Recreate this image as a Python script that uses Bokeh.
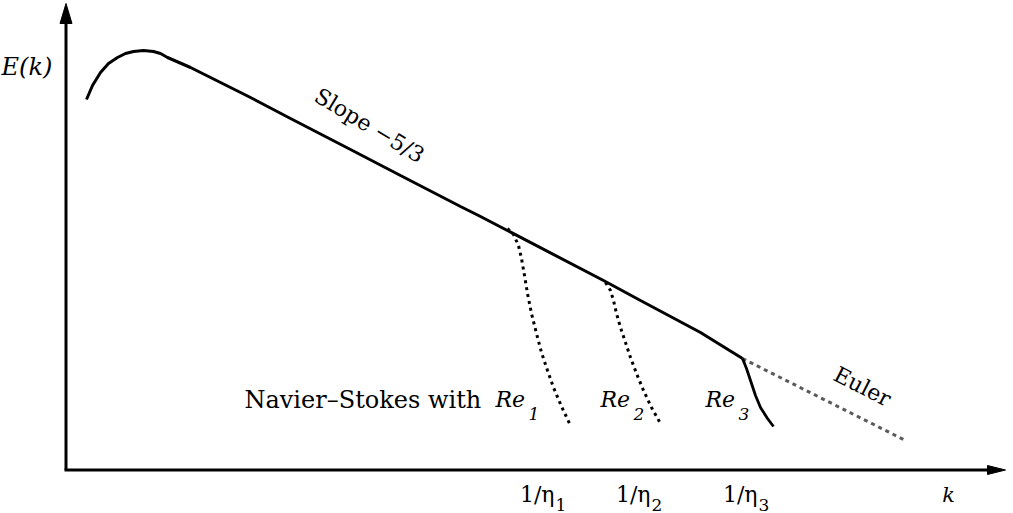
from bokeh.plotting import figure
from bokeh.models import Range1d
from bokeh.core.properties import value
from bokeh.embed import file_html
from bokeh.resources import INLINE

# ---- data (schematic coordinates: k to the right, E(k) downward on screen) ----
spectrum_k = [86, 92, 100, 108, 117, 125, 133, 143, 153, 160, 167, 190, 250, 290, 350, 400, 460, 480, 603, 640, 700, 742]
spectrum_E = [99, 85, 72, 63, 57, 53, 51, 50, 51, 53, 57, 67, 97, 118, 149, 175, 206, 216, 280, 300, 332, 358]

re1_k = [507, 513, 518, 521, 524, 527, 531, 536, 541, 547, 553, 561, 570]
re1_E = [228, 234, 245, 258, 275, 293, 313, 333, 352, 370, 387, 406, 425]

re2_k = [605, 610, 613, 616, 620, 625, 630, 636, 643, 651, 660]
re2_E = [282, 290, 300, 313, 327, 342, 357, 373, 390, 407, 423]

re3_k = [742, 746, 750, 755, 760, 767, 773]
re3_E = [358, 368, 380, 395, 407, 418, 426]

euler_k = [742, 905]
euler_E = [358, 440]

axis_origin = (65.5, 469.5)
axis_k_end = 1005
axis_E_end = 3

eta_k = [542, 638, 745]
eta_labels = ["1/η", "1/η", "1/η"]
eta_subs = ["1", "2", "3"]

re_k = [495, 600, 705]
re_subs = ["1", "2", "3"]

SERIF = value("DejaVu Serif")

p = figure(width=1013, height=513, output_backend="svg", toolbar_location=None,
           x_range=Range1d(0, 1013), y_range=Range1d(513, 0),
           min_border=0, outline_line_color=None)
p.axis.visible = False
p.grid.visible = False
p.background_fill_color = "white"
p.border_fill_color = "white"

# axes with arrowheads
ox, oy = axis_origin
p.line([ox, ox], [oy, axis_E_end + 12], line_color="black", line_width=3)
p.line([ox - 1.5, axis_k_end - 10], [oy, oy], line_color="black", line_width=3)
hl, hw = 20, 6
p.patch([ox, ox - hw, ox + hw], [axis_E_end, axis_E_end + hl, axis_E_end + hl], color="black")
hl2, hw2 = 18, 4.5
p.patch([axis_k_end, axis_k_end - hl2, axis_k_end - hl2], [oy, oy - hw2, oy + hw2], color="black")

# curves
p.line(euler_k, euler_E, line_color="#5a5a5a", line_width=3, line_dash="4 4")
p.line(re1_k, re1_E, line_color="black", line_width=3, line_dash="3 4")
p.line(re2_k, re2_E, line_color="black", line_width=3, line_dash="3 4")
p.line(re3_k, re3_E, line_color="black", line_width=2.8)
p.line(spectrum_k, spectrum_E, line_color="black", line_width=3)

# axis labels
p.text(x=[1], y=[66], text=["E(k)"], text_font=SERIF, text_font_style="italic",
       text_font_size="24px", text_baseline="alphabetic", text_align="left")
p.text(x=[948], y=[494], text=["k"], text_font=SERIF, text_font_style="italic",
       text_font_size="21px", text_baseline="alphabetic", text_align="center")

# tick labels 1/eta_i
p.text(x=eta_k, y=[494] * 3, text=eta_labels, x_offset=12, text_font=SERIF,
       text_font_size="22px", text_baseline="alphabetic", text_align="right")
p.text(x=eta_k, y=[504] * 3, text=eta_subs, x_offset=13, text_font=SERIF,
       text_font_size="17px", text_baseline="alphabetic", text_align="left")

# annotations
p.text(x=[244], y=[399], text=["Navier–Stokes with"], text_font=SERIF,
       text_font_size="24px", text_baseline="alphabetic", text_align="left")
p.text(x=re_k, y=[399] * 3, text=["Re"] * 3, text_font=SERIF, text_font_style="italic",
       text_font_size="22px", text_baseline="alphabetic", text_align="left")
p.text(x=re_k, y=[413] * 3, text=re_subs, x_offset=33, text_font=SERIF, text_font_style="italic",
       text_font_size="17px", text_baseline="alphabetic", text_align="left")

p.text(x=[369], y=[125], text=["Slope −5/3"], angle=-31, angle_units="deg", text_font=SERIF,
       text_font_size="22px", text_baseline="middle", text_align="center")
p.text(x=[862], y=[386], text=["Euler"], angle=-27, angle_units="deg", text_font=SERIF,
       text_font_size="22px", text_baseline="middle", text_align="center")

open("out.html", "w").write(file_html(p, INLINE))
